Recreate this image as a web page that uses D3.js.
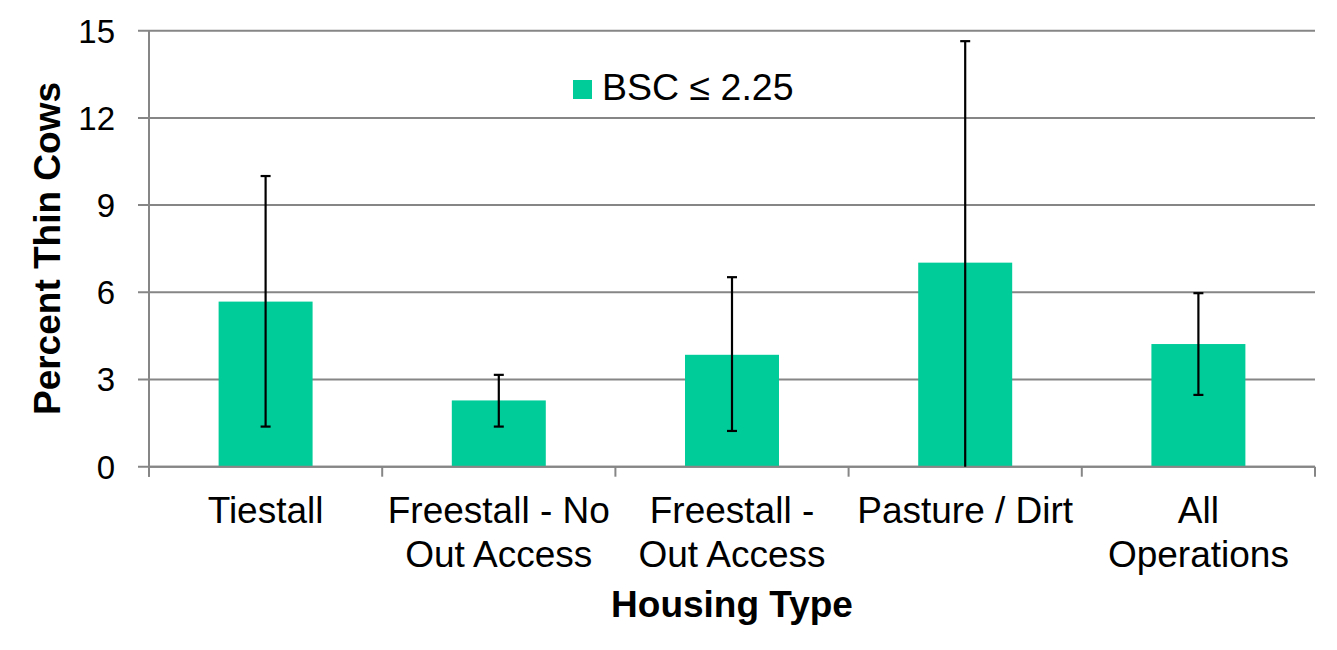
<!DOCTYPE html>
<html>
<head>
<meta charset="utf-8">
<script src="https://cdn.jsdelivr.net/npm/d3@7"></script>
<style>
  html, body { margin: 0; padding: 0; background: #fff; }
  svg { display: block; font-family: "Liberation Sans", Arial, sans-serif; }
</style>
</head>
<body>
<svg id="chart" width="1337" height="650"></svg>
<script>
const categories = [["Tiestall"], ["Freestall - No", "Out Access"], ["Freestall -", "Out Access"], ["Pasture / Dirt"], ["All", "Operations"]];
const categoryKeys = ["Tiestall", "Freestall - No Out Access", "Freestall - Out Access", "Pasture / Dirt", "All Operations"];
const values = [5.68, 2.28, 3.85, 7.02, 4.22];
const errLow = [1.38, 1.38, 1.23, 0.0, 2.47];
const errHigh = [10.0, 3.16, 6.52, 14.64, 5.97];
const yTicks = [0, 3, 6, 9, 12, 15];
const seriesName = "BSC \u2264 2.25";
const yTitle = "Percent Thin Cows";
const xTitle = "Housing Type";

(function () {
const barColor = "#00CC99";
const gridColor = "#868686";

const svg = d3.select("#chart");
const pLeft = 149, pRight = 1315, pTop = 30.7, pBottom = 466.7;

const x = d3.scaleBand().domain(categoryKeys).range([pLeft, pRight]).padding(0);
const y = d3.scaleLinear().domain([0, 15]).range([pBottom, pTop]);
const bw = x.bandwidth() * 0.403;

// gridlines + y ticks (outward)
svg.append("g").selectAll("line").data(yTicks).join("line")
  .attr("x1", pLeft - 11).attr("x2", pRight)
  .attr("y1", d => y(d)).attr("y2", d => y(d))
  .attr("stroke", gridColor).attr("stroke-width", 2);

// y axis line
svg.append("line").attr("x1", pLeft).attr("x2", pLeft).attr("y1", pTop).attr("y2", pBottom + 10)
  .attr("stroke", gridColor).attr("stroke-width", 2);

// x category boundary ticks
const bounds = categoryKeys.map(k => x(k)).concat([pRight]);
svg.append("g").selectAll("line").data(bounds).join("line")
  .attr("x1", d => d).attr("x2", d => d)
  .attr("y1", pBottom).attr("y2", pBottom + 10)
  .attr("stroke", gridColor).attr("stroke-width", 2);

// bars
svg.append("g").selectAll("rect").data(values).join("rect")
  .attr("x", (d, i) => x(categoryKeys[i]) + (x.bandwidth() - bw) / 2)
  .attr("width", bw)
  .attr("y", d => y(d))
  .attr("height", d => y(0) - y(d))
  .attr("fill", barColor);

// x axis line (over bars)
svg.append("line").attr("x1", pLeft).attr("x2", pRight).attr("y1", pBottom).attr("y2", pBottom)
  .attr("stroke", gridColor).attr("stroke-width", 2);

// error bars
const eb = svg.append("g").attr("stroke", "#000").attr("stroke-width", 2.2);
categoryKeys.forEach((k, i) => {
  const cx = x(k) + x.bandwidth() / 2;
  eb.append("line").attr("x1", cx).attr("x2", cx).attr("y1", y(errHigh[i])).attr("y2", y(errLow[i]));
  eb.append("line").attr("x1", cx - 5).attr("x2", cx + 5).attr("y1", y(errHigh[i])).attr("y2", y(errHigh[i]));
  if (errLow[i] > 0) {
    eb.append("line").attr("x1", cx - 5).attr("x2", cx + 5).attr("y1", y(errLow[i])).attr("y2", y(errLow[i]));
  }
});

// y tick labels
svg.append("g").selectAll("text").data(yTicks).join("text")
  .attr("x", 115).attr("y", d => y(d)).attr("dy", "0.36em")
  .attr("text-anchor", "end").attr("font-size", 33).attr("fill", "#000")
  .text(d => d);

// category labels
categories.forEach((lines, i) => {
  const cx = x(categoryKeys[i]) + x.bandwidth() / 2;
  const t = svg.append("text").attr("text-anchor", "middle").attr("font-size", 37).attr("fill", "#000");
  lines.forEach((ln, j) => {
    t.append("tspan").attr("x", cx).attr("y", 523 + j * 44).text(ln);
  });
});

// axis titles
svg.append("text").attr("x", (pLeft + pRight) / 2).attr("y", 617)
  .attr("text-anchor", "middle").attr("font-size", 37).attr("font-weight", "bold")
  .text(xTitle);
svg.append("text").attr("transform", "translate(60,248.5) rotate(-90)")
  .attr("text-anchor", "middle").attr("font-size", 37).attr("font-weight", "bold")
  .text(yTitle);

// legend
svg.append("rect").attr("x", 573).attr("y", 80).attr("width", 19).attr("height", 19).attr("fill", barColor);
svg.append("text").attr("x", 602).attr("y", 100).attr("font-size", 37.5).attr("fill", "#000").text(seriesName);
})();
</script>
</body>
</html>
